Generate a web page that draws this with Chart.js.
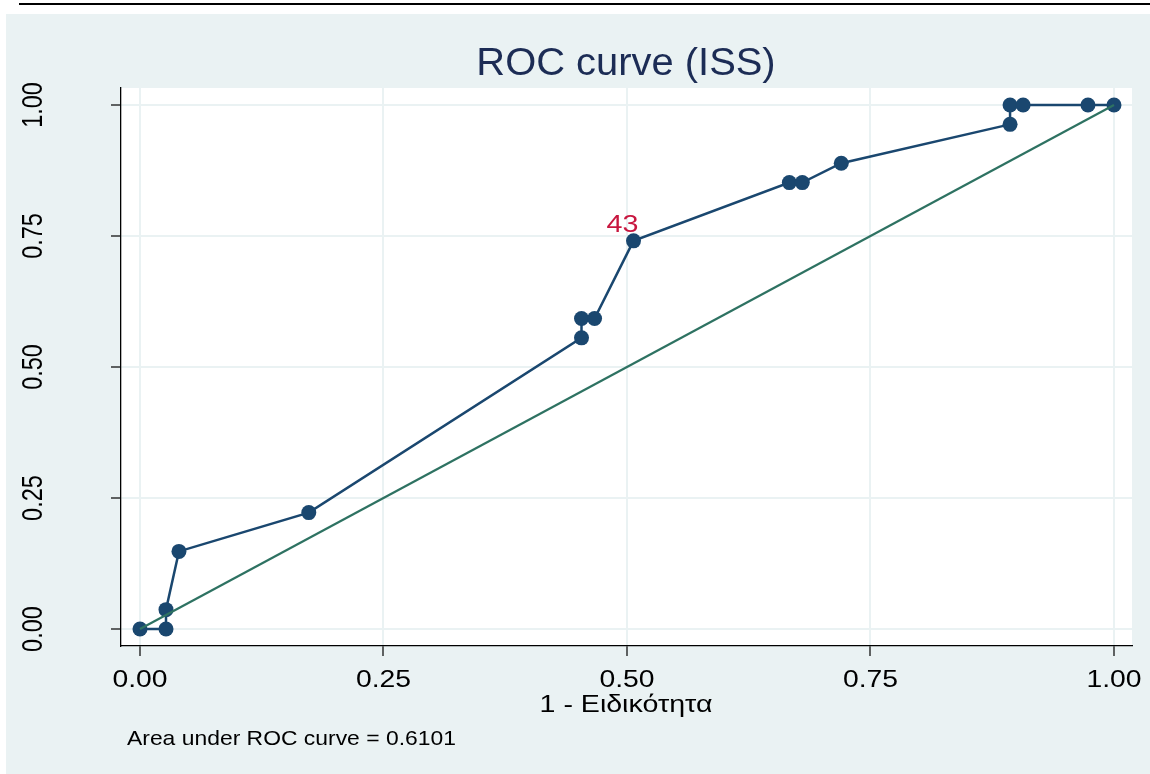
<!DOCTYPE html>
<html>
<head>
<meta charset="utf-8">
<title>ROC curve (ISS)</title>
<script src="https://cdn.jsdelivr.net/npm/chart.js@4.4.1/dist/chart.umd.min.js"></script>
<style>
  html, body { margin: 0; padding: 0; background: #ffffff; }
  #wrap { position: relative; width: 1150px; height: 774px; }
</style>
</head>
<body>
<div id="wrap"><canvas id="roc"></canvas></div>
<script>
// 1 - specificity and sensitivity at each cut-off of ISS
const fpr = [0, 0.0267, 0.0267, 0.04, 0.1733, 0.4533, 0.4533, 0.4667, 0.5067, 0.6667, 0.68, 0.72, 0.8933, 0.8933, 0.9067, 0.9733, 1];
const tpr = [0, 0, 0.037, 0.1481, 0.2222, 0.5556, 0.5926, 0.5926, 0.7407, 0.8519, 0.8519, 0.8889, 0.963, 1, 1, 1, 1];

// chance line
const refX = [0, 1];
const refY = [0, 1];

// axis ticks
const xTicks = [0, 0.25, 0.5, 0.75, 1];
const yTicks = [0, 0.25, 0.5, 0.75, 1];
const xTickLabels = ['0.00', '0.25', '0.50', '0.75', '1.00'];
const yTickLabels = ['0.00', '0.25', '0.50', '0.75', '1.00'];

// marked cut-off
const cutIndex = 8;
const cutLabel = '43';

const titleText = 'ROC curve (ISS)';
const xTitle = '1 - Ειδικότητα';
const aucNote = 'Area under ROC curve = 0.6101';

const NAVY = '#1a476f';
const FONT = '"Liberation Sans", Arial, Helvetica, sans-serif';

// text drawn a little wider than the font's natural width
function drawText(ctx, txt, x, y, size, sx, align, color) {
    ctx.save();
    ctx.translate(x, y);
    ctx.scale(sx, 1);
    ctx.font = size + 'px ' + FONT;
    ctx.fillStyle = color;
    ctx.textAlign = align;
    ctx.textBaseline = 'alphabetic';
    ctx.fillText(txt, 0, 0);
    ctx.restore();
}

const frame = {
    id: 'frame',
    beforeDraw(chart) {
        const ctx = chart.ctx;
        const a = chart.chartArea;
        ctx.save();
        ctx.fillStyle = '#ffffff';
        ctx.fillRect(0, 0, chart.width, chart.height);
        // rule above the graph
        ctx.fillStyle = '#000000';
        ctx.fillRect(19, 3, chart.width - 19, 2);
        // graph region
        ctx.fillStyle = '#eaf2f3';
        ctx.fillRect(6, 14, chart.width - 6, chart.height - 14);
        // plot region
        ctx.fillStyle = '#ffffff';
        ctx.fillRect(a.left, a.top, a.right - a.left, a.bottom - a.top);
        ctx.restore();
    },
    afterDraw(chart) {
        const ctx = chart.ctx;
        const xs = chart.scales.x;
        const ys = chart.scales.y;

        drawText(ctx, titleText, 626, 75, 38, 1.05, 'center', '#1c2c55');

        xTicks.forEach((v, i) => {
            drawText(ctx, xTickLabels[i], xs.getPixelForValue(v), 687, 24, 1.18, 'center', '#000000');
        });

        // vertical tick labels on the y axis
        yTicks.forEach((v, i) => {
            ctx.save();
            ctx.translate(42, ys.getPixelForValue(v));
            ctx.scale(1.25, 1);
            ctx.rotate(-Math.PI / 2);
            ctx.font = '23.5px ' + FONT;
            ctx.fillStyle = '#000000';
            ctx.textAlign = 'center';
            ctx.textBaseline = 'alphabetic';
            ctx.fillText(yTickLabels[i], 0, 0);
            ctx.restore();
        });

        drawText(ctx, xTitle, 626, 712, 24, 1.19, 'center', '#000000');
        drawText(ctx, aucNote, 127, 745, 21, 1.09, 'left', '#000000');

        const px = xs.getPixelForValue(fpr[cutIndex]);
        const py = ys.getPixelForValue(tpr[cutIndex]);
        drawText(ctx, cutLabel, px - 11, py - 9, 23.3, 1.23, 'center', '#c8163f');
    }
};

const ctx = document.getElementById('roc').getContext('2d');
new Chart(ctx, {
    type: 'line',
    data: {
        datasets: [{
            label: 'ROC',
            data: fpr.map((x, i) => ({ x: x, y: tpr[i] })),
            borderColor: NAVY,
            backgroundColor: NAVY,
            borderWidth: 2.5,
            pointRadius: 7.5,
            pointBorderWidth: 0,
            pointBackgroundColor: NAVY,
            tension: 0,
            order: 2
        }, {
            label: 'Reference',
            data: refX.map((x, i) => ({ x: x, y: refY[i] })),
            borderColor: '#2e7262',
            borderWidth: 2.2,
            pointRadius: 0,
            tension: 0,
            order: 1
        }]
    },
    options: {
        responsive: true,
        maintainAspectRatio: false,
        devicePixelRatio: 1,
        animation: false,
        layout: { padding: { top: 88, right: 18, left: 0, bottom: 0 } },
        plugins: {
            legend: { display: false },
            tooltip: { enabled: false },
            title: { display: false }
        },
        scales: {
            x: {
                type: 'linear',
                min: -0.0195,
                max: 1.0185,
                afterBuildTicks: s => { s.ticks = xTicks.map(v => ({ value: v })); },
                afterFit: s => { s.height = 128; },
                ticks: { display: false },
                grid: { color: '#eaf2f3', lineWidth: 2, tickColor: '#000000', tickLength: 10, tickWidth: 1.2 },
                border: { color: '#000000', width: 1.3 }
            },
            y: {
                type: 'linear',
                min: -0.0324,
                max: 1.0324,
                afterBuildTicks: s => { s.ticks = yTicks.map(v => ({ value: v })); },
                afterFit: s => { s.width = 121; },
                ticks: { display: false },
                grid: { color: '#eaf2f3', lineWidth: 2, tickColor: '#000000', tickLength: 10, tickWidth: 1.2 },
                border: { color: '#000000', width: 1.3 }
            }
        }
    },
    plugins: [frame]
});
</script>
</body>
</html>
